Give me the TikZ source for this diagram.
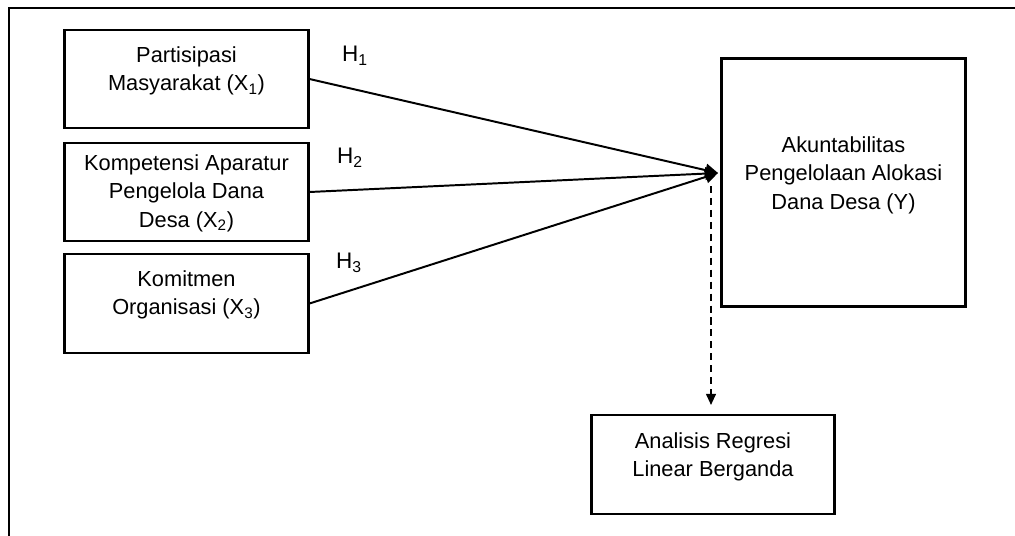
\documentclass[tikz,border=0pt]{standalone}
\usepackage{fontspec}
\setmainfont{Liberation Sans}
\usetikzlibrary{arrows.meta}
\begin{document}
\begin{tikzpicture}[x=0.025cm,y=-0.025cm,
  box/.style={draw,line width=2.1pt,inner sep=0pt,minimum width=6.075cm},
  txt/.style={align=center,font=\fontsize{15.5}{20.2}\selectfont,inner sep=0pt},
  hlab/.style={font=\fontsize{16}{20}\selectfont,inner sep=0pt},
  arr/.style={line width=1.4pt,-{Triangle[length=9pt,width=9pt]}},
  darr/.style={line width=1.4pt,dash pattern=on 5pt off 3.5pt,-{Triangle[length=8pt,width=7pt]}}
]
\useasboundingbox (0,0) rectangle (1015,535);
\draw[line width=1.4pt] (9,540) -- (9,8) -- (1020,8);

\node[box,minimum height=2.45cm] (b1) at (186.5,79) {};
\node[box,minimum height=2.45cm] (b2) at (186.5,192) {};
\node[box,minimum height=2.475cm] (b3) at (186.5,303.5) {};
\node[box,minimum height=6.175cm] (by) at (843.5,182.5) {};
\node[box,minimum width=6.05cm,minimum height=2.475cm] (br) at (713,464.5) {};

\node[txt] (t1) at (186.5,71) {Partisipasi\\Masyarakat (X\textsubscript{1})};
\node[txt] (t2) at (186.5,193) {Kompetensi Aparatur\\Pengelola Dana\\Desa (X\textsubscript{2})};
\node[txt] (t3) at (186.5,295) {Komitmen\\Organisasi (X\textsubscript{3})};
\node[txt] (ty) at (843.5,175) {Akuntabilitas\\Pengelolaan Alokasi\\Dana Desa (Y)};
\node[txt] (tr) at (713,457) {Analisis Regresi\\Linear Berganda};

\node[hlab] (h1) at (355,56) {H\textsubscript{1}};
\node[hlab] (h2) at (350,158) {H\textsubscript{2}};
\node[hlab] (h3) at (349,263) {H\textsubscript{3}};

\coordinate (tip) at (718,173);
\coordinate (dstart) at (711,186);
\coordinate (dend) at (711,405);

\draw[arr] (b1.east) -- (tip);
\draw[arr] (b2.east) -- (tip);
\draw[arr] (b3.east) -- (tip);
\draw[darr] (dstart) -- (dend);
\end{tikzpicture}
\end{document}
